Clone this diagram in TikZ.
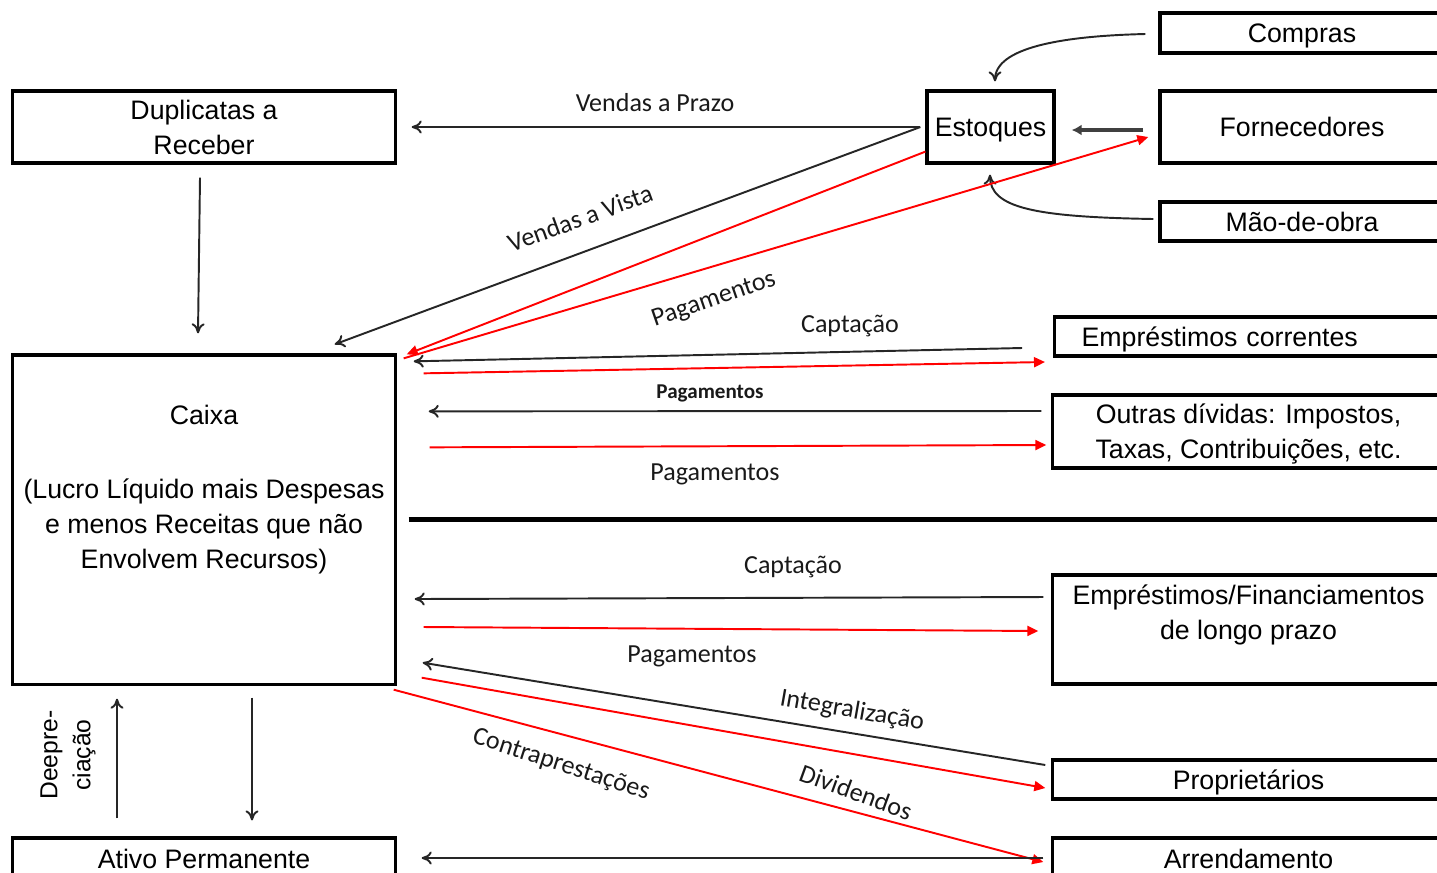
\documentclass[tikz,border=0pt]{standalone}
\usepackage{fontspec}
\setmainfont{Liberation Sans}
\newfontfamily\lblfont{Carlito}
\usetikzlibrary{arrows.meta, positioning, calc}

\begin{document}
\begin{tikzpicture}[
    x=0.01cm, y=-0.01cm,
    acct/.style={rectangle, draw=black, line width=0.9pt, inner sep=0pt, text depth=0pt, align=center, font=\fontsize{7.6}{10}\selectfont},
    lbl/.style={font=\lblfont\fontsize{7.4}{9}\selectfont, inner sep=0pt, text=black!90},
    flow/.style={-{To[length=1mm,width=1.3mm]}, line width=0.55pt, draw=black!85},
    cash/.style={-{Triangle[length=1.1mm,width=1mm]}, line width=0.55pt, draw=red}
]
\useasboundingbox (0,0) rectangle (1437,872);
\clip (0,0) rectangle (1437,872);

% Left column
\node[acct, minimum width=3.82cm, minimum height=0.72cm] (dup) at (204,127) {Duplicatas a\\Receber};
\node[acct, minimum width=3.82cm, minimum height=3.29cm] (caixa) at (204,519.5) {Caixa\\[11pt](Lucro Líquido mais Despesas\\e menos Receitas que não\\Envolvem Recursos)\\[8.5pt]\mbox{}};
\node[acct, minimum width=3.82cm, minimum height=0.42cm] (ativo) at (204,859) {Ativo Permanente};

% Stock and its sources
\node[acct, minimum width=1.27cm, minimum height=0.72cm] (est) at (990.5,127) {Estoques};
\node[acct, minimum width=2.84cm, minimum height=0.40cm] (compras) at (1302,33) {Compras};
\node[acct, minimum width=2.84cm, minimum height=0.72cm] (forn) at (1302,127) {Fornecedores};
\node[acct, minimum width=2.84cm, minimum height=0.39cm] (mao) at (1302,221.5) {Mão-de-obra};

% Right column
\node[acct, anchor=west, text width=3.64cm, align=left, inner xsep=0.27cm, minimum height=0.39cm] (empc) at (1053,336.5) {Empréstimos correntes};
\node[acct, minimum width=3.91cm, minimum height=0.73cm] (outras) at (1248.5,431.5) {Outras dívidas: Impostos,\\Taxas, Contribuições, etc.};
\node[acct, minimum width=3.91cm, minimum height=1.09cm] (emplp) at (1248.5,629.5) {Empréstimos/Financiamentos\\de longo prazo\\\mbox{}};
\node[acct, minimum width=3.91cm, minimum height=0.39cm] (prop) at (1248.5,779.5) {Proprietários};
\node[acct, minimum width=3.91cm, minimum height=0.42cm] (arr) at (1248.5,859) {Arrendamento};

% Labels
\node[lbl] (vprazo) at (655,103) {Vendas a Prazo};
\node[lbl, rotate=20] (vvista) at (580,218) {Vendas a Vista};
\node[lbl, rotate=19] (pagest) at (714,300) {Pagamentos};
\node[lbl] (capt1) at (850,326) {Captação};
\node[lbl, font=\lblfont\bfseries\fontsize{6}{7}\selectfont] (pag1) at (710,393) {Pagamentos};
\node[lbl] (pag2) at (715,474) {Pagamentos};
\node[lbl] (capt2) at (793,567) {Captação};
\node[lbl] (pag3) at (692,656) {Pagamentos};
\node[lbl, rotate=-10] (integ) at (852,711) {Integralização};
\node[lbl, rotate=-18] (contra) at (561,765) {Contraprestações};
\node[lbl, rotate=-20] (divid) at (856,792) {Dividendos};
\node[font=\fontsize{7}{9.4}\selectfont, rotate=90, align=center, inner sep=0pt] (deprec) at (68,755) {Deepre-\\ciação};

% Stock flows
\draw[flow] ($(compras.west)+(-13,1)$) .. controls (1060,36) and (995,48) .. ($(est.north)+(4.5,-8)$);
\draw[-{Latex[length=1mm,width=1.1mm]}, line width=1pt, draw=black!75] ($(forn.west)+(-15,3)$) -- ($(est.east)+(16,3)$);
\draw[flow] ($(mao.west)+(-5,-2.5)$) .. controls (1035,217) and (990,208) .. ($(est.south)+(-0.5,10)$);
\draw[flow] ($(est.west)+(-5,0)$) -- ($(dup.east)+(15,0)$);
\draw[flow] ($(est.west)+(-5,0)$) -- ($(caixa.north east)+(-62,-9)$);
\draw[cash] ($(est.south west)+(0,-13)$) -- ($(caixa.north east)+(10,1)$);
\draw[cash] ($(caixa.north east)+(7,5)$) -- ($(forn.west)+(-10,10)$);
\draw[flow] ($(dup.south)+(-4,13)$) -- ($(caixa.north)+(-6,-20)$);

% Current liabilities
\draw[flow] ($(empc.west)+(-31,11.5)$) -- ($(caixa.north east)+(17,8)$);
\draw[cash] ($(caixa.north east)+(27,20)$) -- ($(empc.west)+(-8,25.5)$);
\draw[flow] ($(outras.west)+(-10,-20.5)$) -- ($(caixa.north east)+(32,58)$);
\draw[cash] ($(caixa.north east)+(33,94)$) -- ($(outras.west)+(-5,13.5)$);

\draw[line width=1.2pt] ($(caixa.east)+(12,0)$) -- ($(caixa.east)+(1042,0)$);

% Long term
\draw[flow] ($(emplp.west)+(-8,-32.5)$) -- ($(caixa.east)+(18,79.5)$);
\draw[cash] ($(caixa.east)+(27,107.5)$) -- ($(emplp.west)+(-13,1.5)$);
\draw[flow] ($(prop.west)+(-6,-14.5)$) -- ($(caixa.south east)+(26,-23)$);
\draw[cash] ($(caixa.south east)+(25,-8)$) -- ($(prop.west)+(-6,8.5)$);
\draw[cash] ($(caixa.south east)+(-3,4)$) -- ($(arr.west)+(-8,3)$);
\draw[flow] ($(arr.west)+(-8,-1)$) -- ($(ativo.east)+(25,-1)$);

% Fixed assets
\draw[flow] ($(ativo.north)+(-87,-18)$) -- ($(caixa.south)+(-87,13)$);
\draw[flow] ($(caixa.south)+(48,12)$) -- ($(ativo.north)+(48,-16)$);

\end{tikzpicture}
\end{document}
